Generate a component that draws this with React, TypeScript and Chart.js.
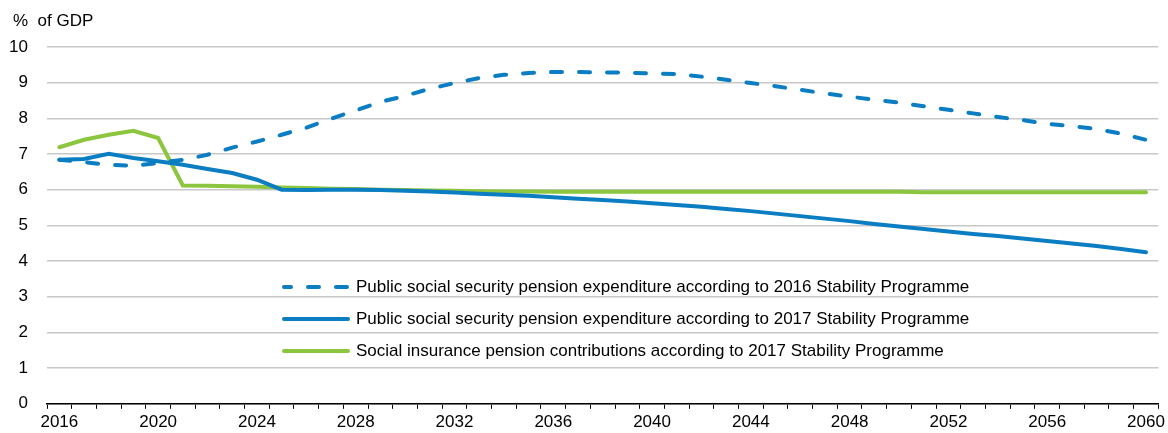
import React, { useEffect, useRef } from "react";
import { Chart, registerables } from "chart.js";

Chart.register(...registerables);

const years: string[] = [];
for (let y = 2016; y <= 2060; y++) years.push(String(y));

const sp2016Expenditure = [
  6.84, 6.77, 6.70, 6.67, 6.75, 6.84, 6.98, 7.18, 7.35, 7.54,
  7.74, 7.99, 8.22, 8.46, 8.63, 8.83, 8.99, 9.13, 9.22, 9.27,
  9.30, 9.30, 9.29, 9.28, 9.26, 9.24, 9.17, 9.08, 8.99, 8.90,
  8.80, 8.70, 8.61, 8.52, 8.44, 8.34, 8.24, 8.14, 8.04, 7.95,
  7.85, 7.78, 7.70, 7.57, 7.40,
];

const sp2017Expenditure = [
  6.84, 6.86, 7.01, 6.89, 6.80, 6.70, 6.58, 6.47, 6.28, 6.00,
  5.99, 6.00, 6.00, 5.99, 5.97, 5.95, 5.92, 5.89, 5.86, 5.83,
  5.79, 5.75, 5.71, 5.67, 5.62, 5.57, 5.52, 5.46, 5.40, 5.33,
  5.26, 5.19, 5.12, 5.04, 4.97, 4.90, 4.83, 4.76, 4.70, 4.63,
  4.56, 4.49, 4.42, 4.34, 4.25,
];

const sp2017Contributions = [
  7.19, 7.40, 7.54, 7.65, 7.45, 6.12, 6.11, 6.10, 6.08, 6.06,
  6.05, 6.03, 6.02, 6.00, 5.99, 5.98, 5.97, 5.96, 5.95, 5.95,
  5.94, 5.94, 5.94, 5.94, 5.94, 5.94, 5.94, 5.94, 5.94, 5.94,
  5.94, 5.94, 5.94, 5.94, 5.94, 5.93, 5.93, 5.93, 5.93, 5.93,
  5.93, 5.93, 5.93, 5.93, 5.93,
];

const seriesLabels = [
  "Public social security pension expenditure according to 2016 Stability Programme",
  "Public social security pension expenditure according to 2017 Stability Programme",
  "Social insurance pension contributions according to 2017 Stability Programme",
];

const yTicks = [0, 1, 2, 3, 4, 5, 6, 7, 8, 9, 10];
const unitLabel = "%  of GDP";

const BLUE = "#0b7dc3";
const GREEN = "#8cc63f";
const FONT = "'Liberation Sans', Arial, sans-serif";

export default function App() {
  const ref = useRef<HTMLCanvasElement | null>(null);

  useEffect(() => {
    document.body.style.margin = "0";
    document.body.style.overflow = "hidden";
    const canvas = ref.current;
    if (!canvas) return;

    const overlay = {
      id: "overlay",
      afterDraw(chart: any) {
        const ctx = chart.ctx as CanvasRenderingContext2D;
        ctx.save();
        ctx.fillStyle = "#000";
        ctx.font = `17px ${FONT}`;
        ctx.textBaseline = "middle";
        ctx.textAlign = "left";
        ctx.fillText(unitLabel, 13, 21);

        const rowsY = [287, 319, 351];
        const x0 = 284;
        const x1 = 348;
        chart.data.datasets.forEach((ds: any, i: number) => {
          const y = rowsY[i];
          ctx.beginPath();
          ctx.strokeStyle = ds.borderColor;
          ctx.lineWidth = ds.borderWidth;
          ctx.lineCap = "round";
          ctx.setLineDash(ds.borderDash || []);
          ctx.lineDashOffset = ds.borderDash ? 4 : 0;
          ctx.moveTo(x0, y);
          ctx.lineTo(x1, y);
          ctx.stroke();
          ctx.setLineDash([]);
          ctx.fillStyle = "#000";
          ctx.fillText(ds.label, 356, y);
        });
        ctx.restore();
      },
    };

    const chart = new Chart(canvas, {
      type: "line",
      data: {
        labels: years,
        datasets: [
          {
            label: seriesLabels[0],
            data: sp2016Expenditure,
            borderColor: BLUE,
            borderWidth: 4,
            borderDash: [11, 17],
            borderCapStyle: "round",
            pointRadius: 0,
            tension: 0,
            fill: false,
          },
          {
            label: seriesLabels[1],
            data: sp2017Expenditure,
            borderColor: BLUE,
            borderWidth: 4,
            borderCapStyle: "round",
            pointRadius: 0,
            tension: 0,
            fill: false,
          },
          {
            label: seriesLabels[2],
            data: sp2017Contributions,
            borderColor: GREEN,
            borderWidth: 4,
            borderCapStyle: "round",
            pointRadius: 0,
            tension: 0,
            fill: false,
          },
        ],
      },
      options: {
        responsive: false,
        animation: false,
        maintainAspectRatio: false,
        layout: { padding: { top: 47, right: 7, left: 0, bottom: 0 } },
        plugins: {
          legend: { display: false },
          tooltip: { enabled: false },
          title: { display: false },
        },
        scales: {
          x: {
            type: "category",
            offset: true,
            afterFit(scale: any) {
              scale.height = 28;
            },
            grid: {
              display: true,
              offset: true,
              drawOnChartArea: false,
              drawTicks: true,
              tickLength: 5,
              color: "#000",
              lineWidth: 1,
            },
            border: { display: true, color: "#000", width: 1.5 },
            ticks: {
              autoSkip: false,
              maxRotation: 0,
              minRotation: 0,
              padding: 3,
              color: "#000",
              font: { family: FONT, size: 17 },
              callback: (_v: any, i: number) => ((i % 4 === 0) ? years[i] : ""),
            },
          },
          y: {
            min: 0,
            max: 10,
            afterFit(scale: any) {
              scale.width = 47;
            },
            afterBuildTicks(scale: any) {
              scale.ticks = yTicks.map((v) => ({ value: v }));
            },
            grid: {
              color: "#c8c8c8",
              lineWidth: 1.5,
              drawTicks: false,
            },
            border: { display: false },
            ticks: {
              padding: 19,
              color: "#000",
              font: { family: FONT, size: 17 },
            },
          },
        },
      },
      plugins: [overlay],
    });

    return () => chart.destroy();
  }, []);

  return (
    <div style={{ position: "relative", width: 1168, height: 433 }}>
      <canvas ref={ref} width={1168} height={433} style={{ width: 1168, height: 433, display: "block" }} />
    </div>
  );
}
